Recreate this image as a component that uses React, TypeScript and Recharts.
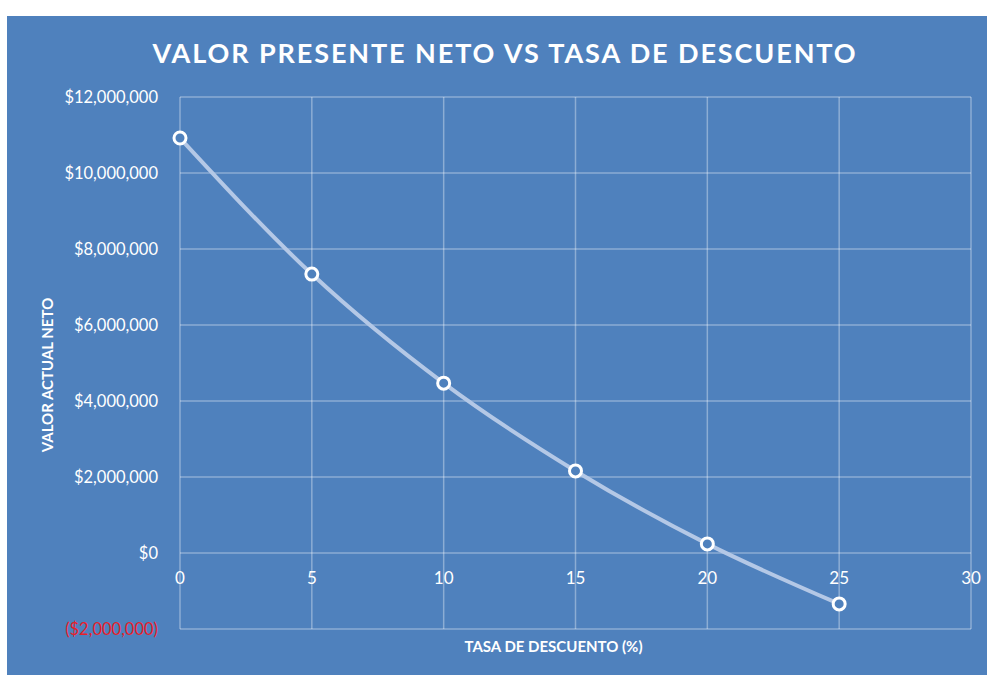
import React from "react";
import {
  LineChart,
  Line,
  XAxis,
  YAxis,
  CartesianGrid,
  Label,
} from "recharts";

const tasas = [0, 5, 10, 15, 20, 25];
const valores = [10920000, 7340000, 4470000, 2160000, 240000, -1340000];
const xTicks = [0, 5, 10, 15, 20, 25, 30];
const yTicks = [-2000000, 0, 2000000, 4000000, 6000000, 8000000, 10000000, 12000000];

const data = tasas.map((t, i) => ({ tasa: t, valor: valores[i] }));

const Y_MIN = -2000000;
const Y_MAX = 12000000;
const BLUE = "#4F81BD";
const FONT = "Lato, 'Open Sans', sans-serif";

const CHART_W = 980;
const CHART_H = 659;
const X_AXIS_H = 46;
const MARGIN = { top: 81, right: 16, bottom: 0, left: 0 };
const Y_AXIS_W = 173;
const PLOT_H = CHART_H - MARGIN.top - MARGIN.bottom - X_AXIS_H;
// distance from the bottom of the plot up to the $0 line
const ZERO_OFFSET = (PLOT_H * (0 - Y_MIN)) / (Y_MAX - Y_MIN);

const money = (v: number) => {
  const s = "$" + Math.abs(v).toLocaleString("en-US");
  return v < 0 ? `(${s})` : s;
};

const XTick = ({ x, y, payload }: any) => (
  <text
    x={x}
    y={y - ZERO_OFFSET + 23}
    textAnchor="middle"
    fill="#fff"
    fontSize={17}
    fontFamily={FONT}
  >
    {payload.value}
  </text>
);

const YTick = ({ x, y, payload }: any) => (
  <text
    x={x - 14}
    y={y + 6}
    textAnchor="end"
    fill={payload.value < 0 ? "#E8202A" : "#fff"}
    fontSize={16.5}
    fontFamily={FONT}
  >
    {money(payload.value)}
  </text>
);

const YTitle = ({ viewBox }: any) => {
  const cx = 40;
  const cy = viewBox.y + viewBox.height / 2 + 12;
  return (
    <text
      x={cx}
      y={cy}
      transform={`rotate(-90 ${cx} ${cy})`}
      textAnchor="middle"
      dominantBaseline="central"
      fill="#fff"
      fontSize={15}
      fontWeight={700}
      fontFamily={FONT}
    >
      VALOR ACTUAL NETO
    </text>
  );
};

export default function App() {
  return (
    <div
      style={{
        position: "absolute",
        left: 0,
        top: 0,
        width: 987,
        height: 675,
        background: "#fff",
        overflow: "hidden",
      }}
    >
      <div
        style={{
          position: "absolute",
          left: 7,
          top: 16,
          width: CHART_W,
          height: CHART_H,
          background: BLUE,
        }}
      >
        <div
          style={{
            position: "absolute",
            left: 0,
            top: 20,
            width: 996,
            textAlign: "center",
            color: "#fff",
            fontFamily: FONT,
            fontWeight: 700,
            fontSize: 27,
            letterSpacing: 1.9,
          }}
        >
          VALOR PRESENTE NETO VS TASA DE DESCUENTO
        </div>
        <LineChart width={CHART_W} height={CHART_H} data={data} margin={MARGIN}>
          <CartesianGrid stroke="rgba(255,255,255,0.35)" strokeWidth={1.5} />
          <XAxis
            dataKey="tasa"
            type="number"
            domain={[0, 30]}
            ticks={xTicks}
            axisLine={false}
            tickLine={false}
            tick={<XTick />}
            height={X_AXIS_H}
          >
            <Label
              value="TASA DE DESCUENTO (%)"
              position="insideBottom"
              offset={23}
              fill="#fff"
              fontSize={15}
              fontWeight={700}
              fontFamily={FONT}
              dx={-22}
            />
          </XAxis>
          <YAxis
            type="number"
            domain={[Y_MIN, Y_MAX]}
            ticks={yTicks}
            width={Y_AXIS_W}
            axisLine={false}
            tickLine={false}
            tick={<YTick />}
          >
            <Label content={<YTitle />} />
          </YAxis>
          <Line
            dataKey="valor"
            type="monotone"
            stroke="#B4C8E6"
            strokeWidth={4}
            dot={{ r: 6, fill: BLUE, stroke: "#fff", strokeWidth: 3 }}
            isAnimationActive={false}
          />
        </LineChart>
      </div>
    </div>
  );
}
